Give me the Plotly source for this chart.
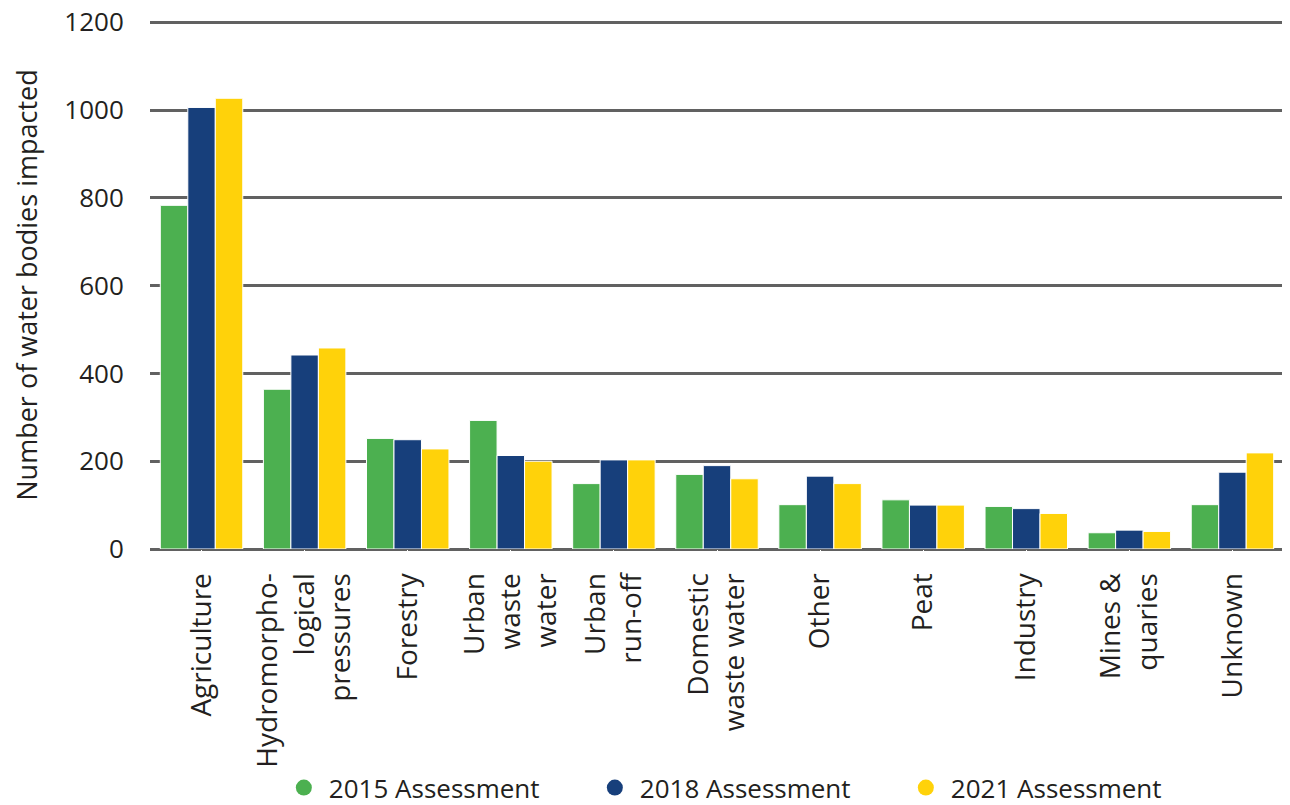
import plotly.graph_objects as go

categories = ["Agriculture", "Hydromorpho-<br>logical<br>pressures", "Forestry", "Urban<br>waste<br>water",
              "Urban<br>run-off", "Domestic<br>waste water", "Other", "Peat", "Industry",
              "Mines &<br>quaries", "Unknown"]
series_names = ["2015 Assessment", "2018 Assessment", "2021 Assessment"]
values_2015 = [783, 364, 252, 293, 149, 170, 101, 112, 97, 37, 101]
values_2018 = [1006, 442, 249, 213, 203, 190, 166, 100, 92, 43, 175]
values_2021 = [1027, 458, 228, 200, 203, 160, 149, 100, 81, 40, 219]
colors = ["#4cb050", "#173f7b", "#ffd20a"]
y_ticks = [0, 200, 400, 600, 800, 1000, 1200]

fig = go.Figure()
for name, vals, col in zip(series_names, [values_2015, values_2018, values_2021], colors):
    fig.add_trace(go.Bar(x=categories, y=vals, name=name, marker=dict(color=col, line=dict(color="white", width=1)),
                         showlegend=False))
for name, col in zip(series_names, colors):
    fig.add_trace(go.Scatter(x=[None], y=[None], mode="markers", name=name,
                             marker=dict(color=col, size=19, symbol="circle")))

fig.update_layout(
    width=1290, height=805,
    margin=dict(l=142, r=14, t=13, b=264, autoexpand=False),
    paper_bgcolor="white", plot_bgcolor="white",
    font=dict(family="Open Sans", size=26, color="#231f20"),
    barmode="group", bargap=0.2, bargroupgap=0.0,
    legend=dict(orientation="h", x=0.525, xanchor="center", y=-0.452, yanchor="middle",
                font=dict(size=26), itemwidth=40, tracegroupgap=0,
                entrywidth=256, entrywidthmode="pixels"),
    xaxis=dict(tickangle=-90, ticks="outside", ticklen=12, tickcolor="white",
               showline=False, showgrid=False, automargin=False,
               tickfont=dict(size=28)),
    yaxis=dict(range=[0, 1203], tickvals=y_ticks, showgrid=True, gridcolor="#616161", gridwidth=3,
               zeroline=True, zerolinecolor="#616161", zerolinewidth=3,
               ticks="outside", ticklen=20, tickcolor="white", automargin=False,
               ticklabeloverflow="allow",
               tickfont=dict(size=26),
               title=dict(text="Number of water bodies impacted", font=dict(size=27), standoff=26)),
)

fig.write_html("out.html")
